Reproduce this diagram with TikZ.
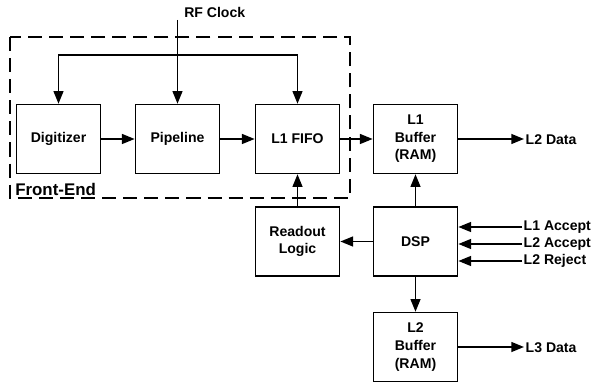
\documentclass[tikz,border=0pt]{standalone}
\usepackage{fontspec}
\setsansfont{Liberation Sans}
\usetikzlibrary{arrows.meta}
\usepackage{xcolor}

\begin{document}
\begin{tikzpicture}[x=0.025cm, y=-0.025cm,
  font=\sffamily\bfseries\fontsize{10}{12.5}\selectfont]
  \tikzset{
    block/.style={
      draw,
      line width=1.2pt,
      minimum width=2.1cm,
      minimum height=1.72cm,
      align=center,
      anchor=center
    },
    sig/.style={
      line width=1.2pt,
      -{Triangle[length=9pt,width=7pt]}
    },
    sigboth/.style={
      line width=1.2pt,
      {Triangle[length=9pt,width=7pt]}-{Triangle[length=9pt,width=7pt]}
    },
    tag/.style={
      anchor=west,
      inner sep=1pt
    }
  }
  \useasboundingbox (0,0) rectangle (597,385);

  % Front-end frame
  \draw[line width=1.2pt, dash pattern=on 10pt off 5pt] (10,37) rectangle (350,198);
  \node[anchor=base west, inner sep=0pt, font=\sffamily\bfseries\fontsize{12}{12}\selectfont] (fe) at (15,196) {Front-End};

  % Front-end blocks
  \node[block] (dig) at (58.5,139) {Digitizer};
  \node[block] (pipe) at (177.5,139) {Pipeline};
  \node[block] (fifo) at (297.5,139) {L1 FIFO};

  % RF clock
  \coordinate (rf) at (177.5,20);
  \node[anchor=west, inner sep=0pt] (rflabel) at (184,12) {RF Clock};
  \coordinate (loop) at (177.5,55);
  \draw[sig] (rf) -- (pipe.north);
  \draw[sigboth] (dig.north) -- (dig.north |- loop) -- (fifo.north |- loop) -- (fifo.north);

  % Buffers and control
  \node[block] (buf1) at (415.5,139) {L1\\Buffer\\(RAM)};
  \node[block] (readout) at (297.5,241.5) {Readout\\Logic};
  \node[block] (dsp) at (415.5,241.5) {DSP};
  \node[block] (buf2) at (415.5,347) {L2\\Buffer\\(RAM)};

  % Outputs
  \node[tag] (l2data) at (524,140) {L2 Data};
  \node[tag] (l3data) at (524,348) {L3 Data};

  % Trigger inputs
  \node[tag] (l1acc) at (522,227) {L1 Accept};
  \node[tag] (l2acc) at (522,244) {L2 Accept};
  \node[tag] (l2rej) at (522,261) {L2 Reject};

  % Data path
  \draw[sig] (dig) -- (pipe);
  \draw[sig] (pipe) -- (fifo);
  \draw[sig] (fifo) -- (buf1);
  \draw[sig] (buf1.east) -- (buf1.east -| l2data.west);
  \draw[sig] (dsp) -- (buf1);
  \draw[sig] (dsp) -- (readout);
  \draw[sig] (readout) -- (fifo);
  \draw[sig] (dsp) -- (buf2);
  \draw[sig] (buf2.east) -- (buf2.east -| l3data.west);
  \draw[sig] (l1acc.west) -- (l1acc.west -| dsp.east);
  \draw[sig] (l2acc.west) -- (l2acc.west -| dsp.east);
  \draw[sig] (l2rej.west) -- (l2rej.west -| dsp.east);
\end{tikzpicture}
\end{document}
